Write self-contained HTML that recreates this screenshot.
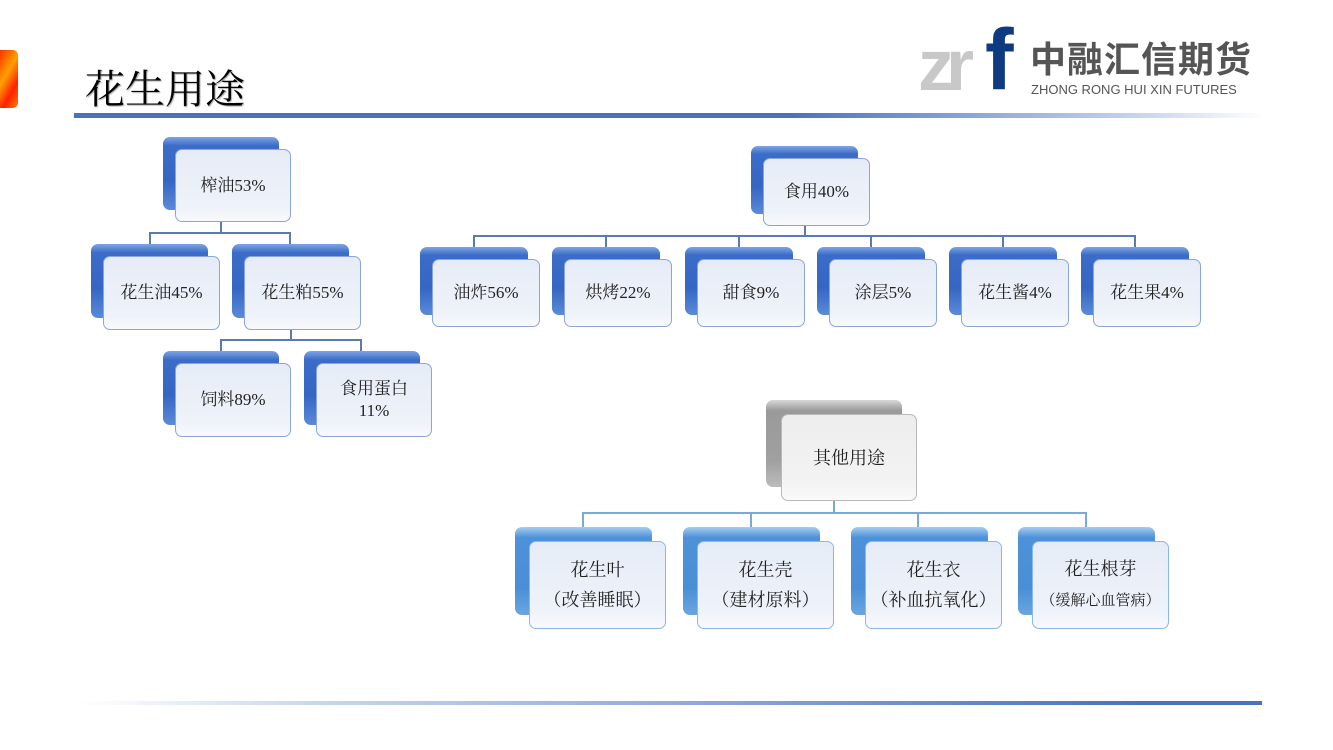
<!DOCTYPE html>
<html><head><meta charset="utf-8"><style>
body{margin:0;width:1333px;height:750px;position:relative;background:#fff;overflow:hidden;font-family:"Liberation Serif","Noto Serif CJK SC",serif;}
.b{position:absolute;border-radius:7px;background:linear-gradient(180deg,#7fa4e4 0%,#3a6cc8 12%,#3566c4 60%,#5a8ad8 100%);}
.b.l{background:linear-gradient(180deg,#a8cdf0 0%,#4d92d8 12%,#4a8fd6 70%,#6aa6e0 100%);}
.b.g{background:linear-gradient(180deg,#d8d8d8 0%,#9a9a9a 12%,#a0a0a0 70%,#bcbcbc 100%);}
.f{position:absolute;border-radius:7px;background:linear-gradient(180deg,#e6ecf7,#eef2f9 80%,#f8f9fc);border:1px solid #8aa6d6;box-sizing:border-box;display:flex;align-items:center;justify-content:center;text-align:center;color:#222;font-size:17px;line-height:22px;}
.f.g{border-color:#b8b8b8;background:linear-gradient(180deg,#ededed,#f3f3f3 80%,#fafafa);font-size:18px;}
.f.l{border-color:#8ab8e6;font-size:18px;line-height:30px;}
.ln{position:absolute;background:#5a7ab0;}
</style></head><body>
<div style="position:absolute;left:0;top:50px;width:18px;height:58px;border-radius:0 5px 5px 0;background:linear-gradient(120deg,#ff3000,#ffa000 40%,#ff2000 70%,#ff8000)"></div>
<div style="position:absolute;left:85px;top:58px;font-size:40px;color:#000;text-shadow:1px 1px 1px #aaa">花生用途</div>
<div style="position:absolute;left:74px;top:113px;width:1190px;height:5px;background:linear-gradient(90deg,#4a72bd 0%,#4a72bd 60%,#c8d6ee 90%,#fff 100%)"></div>
<div style="position:absolute;left:80px;top:701px;width:1182px;height:4px;background:linear-gradient(90deg,#fff 0%,#c8d6ee 20%,#4a72bd 90%)"></div>
<!-- logo -->
<div style="position:absolute;left:918px;top:30px;font:bold 72px 'Liberation Sans',sans-serif;color:#c8c8c8;letter-spacing:-8px;line-height:72px">zr</div>
<div style="position:absolute;left:985px;top:22px;font:bold 86px 'Liberation Sans',sans-serif;color:#0e3a80;line-height:76px">f</div>
<div style="position:absolute;left:1030px;top:40px;font:bold 36px 'Liberation Sans','Noto Sans CJK SC',sans-serif;color:#555;letter-spacing:1px;line-height:40px">中融汇信期货</div>
<div style="position:absolute;left:1031px;top:82px;font:13px 'Liberation Sans',sans-serif;color:#555">ZHONG RONG HUI XIN FUTURES</div>

<!-- connectors -->
<div class="ln" style="left:220px;top:222px;width:2px;height:11px"></div>
<div class="ln" style="left:149px;top:232px;width:142px;height:2px"></div>
<div class="ln" style="left:149px;top:232px;width:2px;height:12px"></div>
<div class="ln" style="left:289px;top:232px;width:2px;height:12px"></div>
<div class="ln" style="left:290px;top:330px;width:2px;height:10px"></div>
<div class="ln" style="left:220px;top:339px;width:142px;height:2px"></div>
<div class="ln" style="left:220px;top:339px;width:2px;height:12px"></div>
<div class="ln" style="left:360px;top:339px;width:2px;height:12px"></div>

<div class="ln" style="left:804px;top:226px;width:2px;height:10px"></div>
<div class="ln" style="left:473px;top:235px;width:663px;height:2px"></div>
<div class="ln" style="left:473px;top:235px;width:2px;height:12px"></div>
<div class="ln" style="left:605px;top:235px;width:2px;height:12px"></div>
<div class="ln" style="left:738px;top:235px;width:2px;height:12px"></div>
<div class="ln" style="left:870px;top:235px;width:2px;height:12px"></div>
<div class="ln" style="left:1002px;top:235px;width:2px;height:12px"></div>
<div class="ln" style="left:1134px;top:235px;width:2px;height:12px"></div>

<div class="ln" style="left:833px;top:501px;width:2px;height:12px;background:#7aa8d8"></div>
<div class="ln" style="left:582px;top:512px;width:505px;height:2px;background:#7aa8d8"></div>
<div class="ln" style="left:582px;top:512px;width:2px;height:15px;background:#7aa8d8"></div>
<div class="ln" style="left:750px;top:512px;width:2px;height:15px;background:#7aa8d8"></div>
<div class="ln" style="left:917px;top:512px;width:2px;height:15px;background:#7aa8d8"></div>
<div class="ln" style="left:1085px;top:512px;width:2px;height:15px;background:#7aa8d8"></div>

<!-- left tree -->
<div class="b" style="left:163px;top:137px;width:116px;height:73px"></div>
<div class="f" style="left:175px;top:149px;width:116px;height:73px">榨油53%</div>
<div class="b" style="left:91px;top:244px;width:117px;height:74px"></div>
<div class="f" style="left:103px;top:256px;width:117px;height:74px">花生油45%</div>
<div class="b" style="left:232px;top:244px;width:117px;height:74px"></div>
<div class="f" style="left:244px;top:256px;width:117px;height:74px">花生粕55%</div>
<div class="b" style="left:163px;top:351px;width:116px;height:74px"></div>
<div class="f" style="left:175px;top:363px;width:116px;height:74px">饲料89%</div>
<div class="b" style="left:304px;top:351px;width:116px;height:74px"></div>
<div class="f" style="left:316px;top:363px;width:116px;height:74px"><div>食用蛋白<br>11%</div></div>

<!-- food -->
<div class="b" style="left:751px;top:146px;width:107px;height:68px"></div>
<div class="f" style="left:763px;top:158px;width:107px;height:68px">食用40%</div>
<div class="b" style="left:420px;top:247px;width:108px;height:68px"></div>
<div class="f" style="left:432px;top:259px;width:108px;height:68px">油炸56%</div>
<div class="b" style="left:552px;top:247px;width:108px;height:68px"></div>
<div class="f" style="left:564px;top:259px;width:108px;height:68px">烘烤22%</div>
<div class="b" style="left:685px;top:247px;width:108px;height:68px"></div>
<div class="f" style="left:697px;top:259px;width:108px;height:68px">甜食9%</div>
<div class="b" style="left:817px;top:247px;width:108px;height:68px"></div>
<div class="f" style="left:829px;top:259px;width:108px;height:68px">涂层5%</div>
<div class="b" style="left:949px;top:247px;width:108px;height:68px"></div>
<div class="f" style="left:961px;top:259px;width:108px;height:68px">花生酱4%</div>
<div class="b" style="left:1081px;top:247px;width:108px;height:68px"></div>
<div class="f" style="left:1093px;top:259px;width:108px;height:68px">花生果4%</div>

<!-- other -->
<div class="b g" style="left:766px;top:400px;width:136px;height:87px"></div>
<div class="f g" style="left:781px;top:414px;width:136px;height:87px">其他用途</div>
<div class="b l" style="left:515px;top:527px;width:137px;height:88px"></div>
<div class="f l" style="left:529px;top:541px;width:137px;height:88px"><div>花生叶<br>（改善睡眠）</div></div>
<div class="b l" style="left:683px;top:527px;width:137px;height:88px"></div>
<div class="f l" style="left:697px;top:541px;width:137px;height:88px"><div>花生壳<br>（建材原料）</div></div>
<div class="b l" style="left:851px;top:527px;width:137px;height:88px"></div>
<div class="f l" style="left:865px;top:541px;width:137px;height:88px"><div>花生衣<br>（补血抗氧化）</div></div>
<div class="b l" style="left:1018px;top:527px;width:137px;height:88px"></div>
<div class="f l" style="left:1032px;top:541px;width:137px;height:88px"><div>花生根芽<br><span style="font-size:15px">（缓解心血管病）</span></div></div>
</body></html>
